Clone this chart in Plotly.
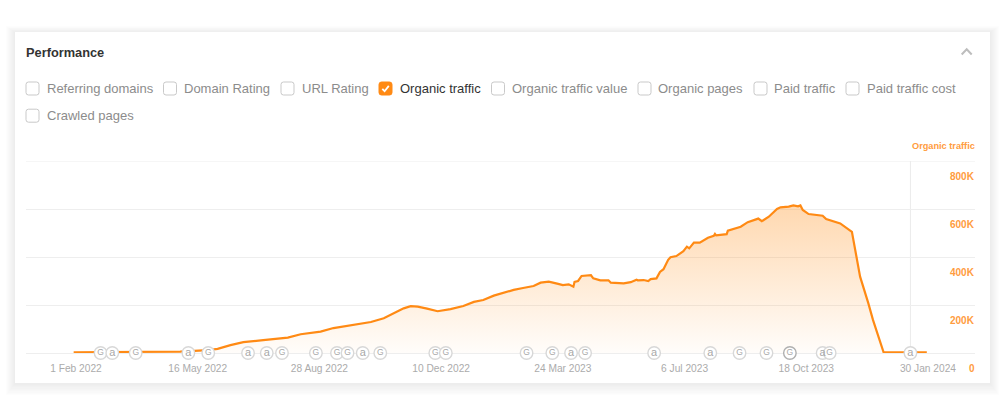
import pandas as pd
import plotly.graph_objects as go

# ---- data ----
start_date = "2022-02-01"
traffic_days = [-2,21,51,89,113,121,132,143,160,181,192,209,220,232,241,252,263,271,280,286,292,300,309,320,331,340,348,357,365,374,382,391,397,404,412,416,421,425,426,429,432,435,440,442,448,455,457,468,474,479,480,485,489,491,496,499,502,506,508,513,519,522,524,528,533,540,545,546,547,556,557,568,574,583,586,592,599,602,609,613,617,619,621,626,638,641,650,653,663,666,670,677,681,690,704,727]
traffic_k = [3,3,4,6,12,17,33,45,54,64,78,89,104,113,121,129,145,165,186,195,193,185,174,183,196,213,221,239,251,263,271,279,293,297,288,283,286,276,296,300,321,321,324,311,303,303,293,290,295,305,303,304,300,308,311,338,349,388,399,404,424,443,436,460,460,480,488,496,490,495,510,526,545,560,549,568,600,607,610,615,611,615,596,579,572,558,545,540,505,417,318,208,138,4,3,3]
event_days = [21,31,51,96,113,147,163,176,205,223,232,245,260,307,316,385,407,423,435,494,542,567,590,610,638,644,713]
event_kinds = ["G","a","G","a","G","a","a","G","G","G","G","a","G","G","G","G","G","a","G","a","a","G","G","G","a","G","a"]
x_tick_dates = ["2022-02-01","2022-05-16","2022-08-28","2022-12-10","2023-03-24","2023-07-06","2023-10-18","2024-01-30"]
x_tick_text = ["1 Feb 2022","16 May 2022","28 Aug 2022","10 Dec 2022","24 Mar 2023","6 Jul 2023","18 Oct 2023","30 Jan 2024"]
y_tick_vals = [800000,600000,400000,200000,0]
y_tick_text = ["800K","600K","400K","200K","0"]
marker_day = 713
checks_row1 = [("Referring domains",26,47,False),("Domain Rating",163.5,184,False),("URL Rating",281,302,False),
               ("Organic traffic",379,400,True),("Organic traffic value",491.5,512,False),("Organic pages",638,658.5,False),
               ("Paid traffic",754,774.5,False),("Paid traffic cost",846,867,False)]
checks_row2 = [("Crawled pages",26,47,False)]

# ---- layout constants ----
W, H = 1006, 404
L, R, T, B = 26, 975, 161, 353
FONT = "Liberation Sans, Arial, sans-serif"
ORANGE = "#ff8a14"
LABEL_ORANGE = "#ff9c40"
PX_PER_DAY = 1.1703
X0 = 76.0

def fx(px): return (px - L) / (R - L)
def fy(py): return (B - py) / (B - T)

t0 = pd.Timestamp(start_date)
to_date = lambda d: t0 + pd.to_timedelta(d, unit="D")
x_dates = [to_date(d) for d in traffic_days]
y_vals = [v * 1000 for v in traffic_k]
ev_dates = [to_date(d) for d in event_days]
x_range = [t0 + pd.Timedelta(days=(L - X0) / PX_PER_DAY), t0 + pd.Timedelta(days=(R - X0) / PX_PER_DAY)]

def round_rect(x0, y0, x1, y1, r):
    a, b, c, d = fx(x0), fy(y0), fx(x1), fy(y1)
    ax, bx = fx(x0 + r), fx(x1 - r)
    ay, by = fy(y0 + r), fy(y1 - r)
    return (f"M{ax},{b} L{bx},{b} Q{c},{b} {c},{ay} L{c},{by} Q{c},{d} {bx},{d} "
            f"L{ax},{d} Q{a},{d} {a},{by} L{a},{ay} Q{a},{b} {ax},{b} Z")

shapes = []
# card shadow, layered
for grow, dy in [(9,3),(8,3),(7,3),(6,2),(5,2),(4,2),(3,1),(2,1),(1,1)]:
    shapes.append(dict(type="rect", xref="paper", yref="paper", layer="below",
                       x0=fx(15-grow), x1=fx(990+grow), y0=fy(383+grow+dy), y1=fy(32-grow+dy),
                       line_width=0, fillcolor="rgba(0,0,0,0.009)"))
shapes.append(dict(type="rect", xref="paper", yref="paper", layer="below",
                   x0=fx(15), x1=fx(990), y0=fy(383), y1=fy(32), line_width=0, fillcolor="#ffffff"))
# top gridline at the edge of the range
shapes.append(dict(type="line", xref="paper", yref="y", layer="below", x0=0, x1=1,
                   y0=y_tick_vals[0], y1=y_tick_vals[0], line=dict(color="#eeeeee", width=1)))
# vertical marker line
shapes.append(dict(type="line", xref="x", yref="paper", layer="below",
                   x0=to_date(marker_day), x1=to_date(marker_day), y0=0, y1=1,
                   line=dict(color="#ebebeb", width=1)))
# chevron
shapes.append(dict(type="path", xref="paper", yref="paper",
                   path=f"M{fx(961.7)},{fy(54.5)} L{fx(966.7)},{fy(49.3)} L{fx(971.7)},{fy(54.5)}",
                   line=dict(color="#bdbdbd", width=2)))

annotations = [dict(text="<b>Performance</b>", xref="paper", yref="paper", x=fx(26), y=fy(52.6), xanchor="left",
                    yanchor="middle", showarrow=False, xshift=-2, font=dict(family=FONT, size=12.8, color="#333333"))]

for row_y, row in [(88.5, checks_row1), (115.7, checks_row2)]:
    for label, bx, tx, on in row:
        shapes.append(dict(type="path", xref="paper", yref="paper",
                           path=round_rect(bx, row_y-6.5, bx+13, row_y+6.5, 2.5),
                           fillcolor=ORANGE if on else "#ffffff",
                           line=dict(color=ORANGE if on else "#c9c9c9", width=1)))
        if on:
            shapes.append(dict(type="path", xref="paper", yref="paper",
                               path=f"M{fx(bx+3.3)},{fy(row_y+0.3)} L{fx(bx+5.6)},{fy(row_y+2.7)} L{fx(bx+9.8)},{fy(row_y-2.6)}",
                               line=dict(color="#ffffff", width=1.8)))
        annotations.append(dict(text=label, xref="paper", yref="paper", x=fx(tx), y=fy(row_y), xanchor="left",
                                yanchor="middle", showarrow=False, xshift=-2.5,
                                font=dict(family=FONT, size=13, color="#333333" if on else "#8c8c8c")))

annotations.append(dict(text="<b>Organic traffic</b>", xref="paper", yref="paper", x=1, y=fy(146), xanchor="right",
                        yanchor="middle", showarrow=False, xshift=2, font=dict(family=FONT, size=9.2, color=LABEL_ORANGE)))
for v, t in zip(y_tick_vals, y_tick_text):
    annotations.append(dict(text=f"<b>{t}</b>", xref="paper", yref="y", x=1, y=v, yshift=-15, xshift=2, xanchor="right",
                            yanchor="middle", showarrow=False, font=dict(family=FONT, size=10, color=LABEL_ORANGE)))

fig = go.Figure()
fig.add_trace(go.Scatter(
    x=x_dates, y=y_vals, mode="lines", line=dict(color=ORANGE, width=2.2), fill="tozeroy",
    fillgradient=dict(type="vertical", start=0, stop=620000,
                      colorscale=[[0, "rgba(255,140,20,0.02)"], [1, "rgba(255,140,20,0.34)"]]),
    hoverinfo="skip", showlegend=False))
fig.add_trace(go.Scatter(
    x=ev_dates, y=[0]*len(ev_dates), mode="markers+text", text=event_kinds, textposition="middle center",
    textfont=dict(family=FONT, size=[8.5 if k == "G" else 11 for k in event_kinds], color="#a8a8a8"),
    marker=dict(size=12.5, color="#ffffff",
                line=dict(width=1.4, color=["#b0b0b0" if d == 610 else "#d8d8d8" for d in event_days])),
    cliponaxis=False, hoverinfo="skip", showlegend=False))

fig.update_layout(
    width=W, height=H, margin=dict(l=L, r=W-R, t=T, b=H-B, autoexpand=False),
    paper_bgcolor="#ffffff", plot_bgcolor="rgba(0,0,0,0)", shapes=shapes, annotations=annotations,
    font=dict(family=FONT),
    xaxis=dict(type="date", range=x_range, tickmode="array", tickvals=x_tick_dates, ticktext=x_tick_text,
               showgrid=False, zeroline=False, showline=False, ticks="outside", ticklen=6,
               tickcolor="rgba(0,0,0,0)", tickfont=dict(family=FONT, size=10.2, color="#ababab")),
    yaxis=dict(range=[0, 800000], tickmode="array", tickvals=y_tick_vals, showticklabels=False,
               showgrid=True, gridcolor="#eeeeee", gridwidth=1, zeroline=True, zerolinecolor="#eeeeee",
               zerolinewidth=1, showline=False, ticks=""),
)
fig.write_html("out.html", config=dict(displayModeBar=False),
               post_script="document.body.style.margin='0';document.body.style.overflow='hidden';")
